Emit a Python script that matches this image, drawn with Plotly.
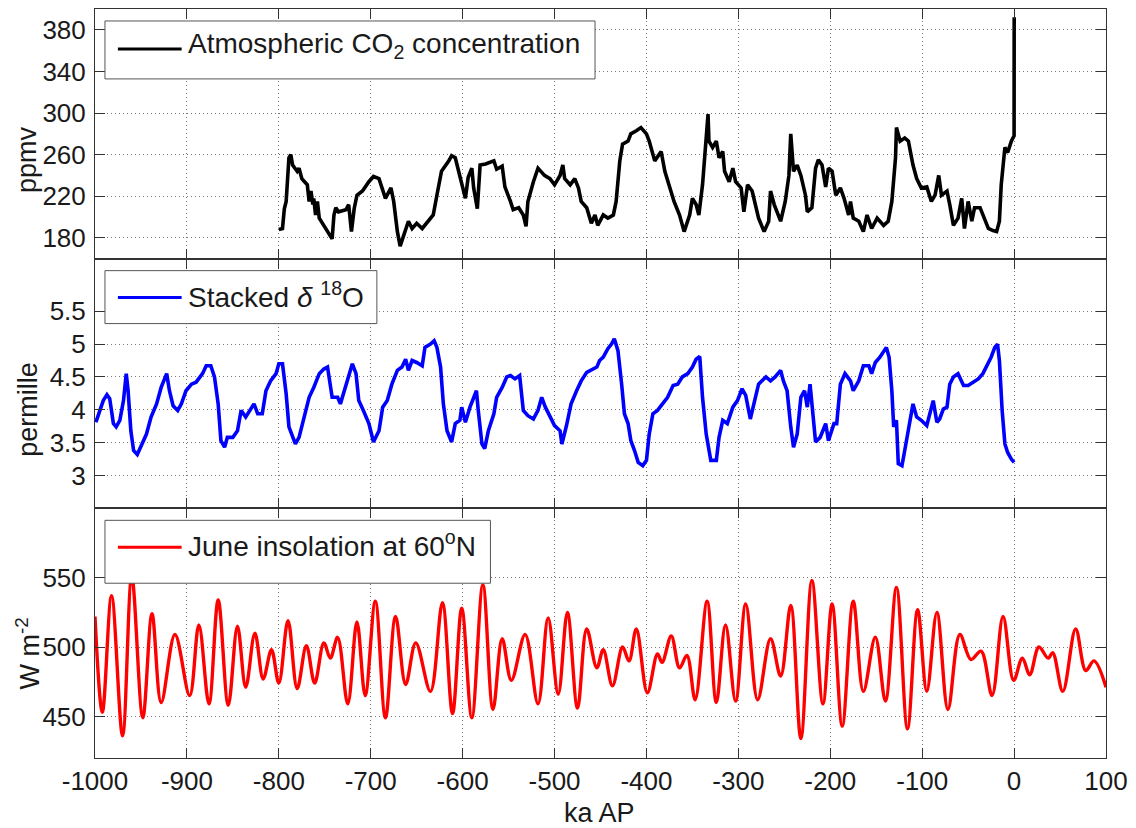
import plotly.graph_objects as go
from plotly.subplots import make_subplots

# ---------------- data ----------------
co2_age = [-800, -796, -794, -792, -789, -787, -785, -783, -780, -778, -775, -772, -769, -767, -765, -763,
           -762, -760, -758, -756, -754, -749, -745, -742,
           -740, -738, -735, -731, -727, -724, -721, -718, -715, -709, -706, -702, -697, -691,
           -684, -678, -675, -671, -668, -664, -659, -655, -650, -644, -637, -632, -628, -623, -615, -612,
           -608, -603, -597, -594, -590, -588, -584, -581, -575, -566, -563, -557, -554, -548, -545, -539,
           -534, -531, -529, -523, -518, -511, -505, -500, -494, -491, -489, -483, -478, -474, -471, -465,
           -460, -456, -453, -447, -442, -436, -433, -429, -426, -420, -417, -411, -406, -400, -397, -391,
           -384, -380, -375, -370, -364, -359, -353, -350, -346, -343, -339, -335, -333, -332, -328, -324,
           -321, -317, -315, -310, -306, -303, -297, -294,
           -290, -285, -281, -278, -272, -267, -265, -261, -254, -249, -245, -243, -240, -236, -232, -227,
           -225, -220, -216, -213, -209, -205, -202, -198, -194, -189, -185, -180, -178, -175, -169, -164,
           -160, -155, -149, -142, -137, -133, -129, -128, -124, -119, -115, -113, -110, -106, -101, -95,
           -90, -86, -82, -79, -73, -70, -66, -61, -57, -54, -50, -46, -43, -37, -32, -28, -23, -19, -16,
           -14, -10, -7, -3, 0, 0.1]
co2_ppmv = [188, 189, 208, 215, 257, 260, 250, 247, 244, 247, 237, 234, 231, 215, 225, 212,
            218, 202, 215, 199, 196, 189, 183, 179,
            202, 209, 205, 206, 207, 212, 186, 208, 221, 225, 229, 234, 239, 237,
            218, 228, 215, 186, 172, 183, 196, 189, 194, 189, 196, 202, 221, 244, 254, 259,
            257, 238, 218, 238, 247, 228, 208, 250, 251, 254, 246, 249, 229, 215, 207, 209,
            202, 191, 215, 234, 247, 240, 237, 231, 240, 250, 237, 231, 237, 228, 215, 209,
            194, 202, 192, 202, 199, 202, 215, 254, 270, 273, 280, 283, 286, 280, 273, 254,
            263, 244, 228, 215, 202, 186, 202, 218, 212, 202, 231, 273, 299, 273, 267, 273,
            257, 263, 244, 234, 247, 234, 228, 205,
            231, 225, 212, 199, 186, 196, 225, 212, 196, 215, 240, 280, 244, 250, 240, 221,
            205, 209, 247, 255, 250, 229, 247, 244, 221, 228, 218, 202, 215, 199, 196, 186,
            202, 189, 199, 192, 196, 215, 257, 286, 273, 276, 273, 263, 250, 237, 228, 229,
            215, 221, 240, 221, 225, 212, 192, 199, 218, 189, 215, 196, 209, 209, 199, 189, 187, 186, 196,
            231, 267, 262, 273, 278, 392]

d18o_age = [-999, -995, -991, -987, -984, -980, -977, -973, -969, -966, -964, -961, -958, -954, -949, -944,
            -939, -933, -928, -922, -919, -915, -910, -906, -901, -895, -890, -886, -883, -879, -874, -870,
            -866, -863, -859, -856, -850, -845, -841, -836, -830, -827, -823, -818, -814, -809, -803, -800,
            -796, -792, -789, -782, -778, -773, -767, -762, -756, -751, -747, -742, -736, -733, -729, -724,
            -720, -716, -713, -708, -702, -697, -691, -687, -682, -677, -671, -666, -662, -659, -655, -650,
            -644, -641, -635, -631, -628, -624, -621, -617, -612, -608, -603, -601, -597, -592, -585, -583,
            -579, -576, -572, -566, -563, -557, -552, -548, -543, -538, -534, -529, -523, -518, -514, -510,
            -505, -500, -494, -492, -487, -482, -476, -471, -465, -460, -454, -451, -447, -442, -438, -435,
            -431, -427, -424, -420, -417, -413, -409, -404, -400, -397, -393, -388, -382, -377, -371, -366,
            -361, -355, -350, -346, -342, -339, -335, -330, -324, -321, -317, -312, -306, -301, -296, -292,
            -287, -283, -278, -270, -265, -260, -254, -251, -247, -243, -240, -236, -232, -228, -225, -222,
            -220, -216, -211, -205, -202, -196, -193, -189, -184, -178, -175, -169, -164, -158, -155, -151,
            -146, -142, -139, -136, -133, -131, -128, -126, -122, -119, -115, -110, -106, -101, -95, -92,
            -88, -84, -81, -77, -73, -70, -66, -61, -55, -50, -45, -39, -34, -30, -25, -21, -18, -16,
            -13, -10, -7, -3, 0]
d18o_permille = [3.81, 3.99, 4.14, 4.23, 4.17, 3.79, 3.74, 3.84, 4.14, 4.55, 4.29, 3.68, 3.38, 3.32, 3.48, 3.63,
                 3.89, 4.09, 4.34, 4.55, 4.29, 4.06, 3.99, 4.09, 4.29, 4.39, 4.42, 4.50, 4.55, 4.67, 4.67, 4.50,
                 4.09, 3.53, 3.43, 3.58, 3.58, 3.68, 3.99, 3.89, 4.04, 4.09, 3.94, 3.94, 4.29, 4.44, 4.55, 4.70,
                 4.70, 4.24, 3.74, 3.48, 3.58, 3.84, 4.19, 4.34, 4.55, 4.62, 4.65, 4.19, 4.19, 4.09, 4.29, 4.50,
                 4.70, 4.55, 4.14, 3.99, 3.79, 3.51, 3.68, 4.04, 4.14, 4.39, 4.60, 4.65, 4.77, 4.60, 4.75, 4.72,
                 4.67, 4.95, 5.00, 5.05, 4.95, 4.65, 4.09, 3.68, 3.51, 3.79, 3.84, 4.04, 3.81, 4.04, 4.29, 3.99,
                 3.48, 3.41, 3.68, 3.94, 4.19, 4.34, 4.50, 4.52, 4.47, 4.52, 3.99, 3.91, 3.86, 3.99, 4.19, 4.04,
                 3.89, 3.76, 3.68, 3.48, 3.76, 4.09, 4.29, 4.44, 4.57, 4.60, 4.65, 4.75, 4.80, 4.93, 5.00, 5.08,
                 4.90, 4.39, 3.94, 3.79, 3.53, 3.38, 3.20, 3.15, 3.23, 3.63, 3.94, 3.99, 4.09, 4.19, 4.37, 4.39,
                 4.50, 4.55, 4.65, 4.77, 4.81, 4.19, 3.63, 3.23, 3.23, 3.58, 3.84, 3.79, 4.04, 4.14, 4.32, 4.22,
                 3.86, 4.09, 4.39, 4.50, 4.44, 4.50, 4.60, 4.44, 4.29, 3.74, 3.43, 3.63, 4.19, 4.29, 4.04, 4.39,
                 4.04, 3.51, 3.58, 3.79, 3.53, 3.79, 3.79, 4.39, 4.55, 4.44, 4.29, 4.44, 4.67, 4.67, 4.55, 4.72,
                 4.80, 4.88, 4.95, 4.80, 4.29, 3.74, 3.84, 3.18, 3.15, 3.38, 3.68, 4.09, 3.89, 3.84, 3.76, 3.94,
                 4.14, 3.81, 3.86, 4.01, 4.04, 4.39, 4.50, 4.55, 4.37, 4.37, 4.42, 4.47, 4.55, 4.65, 4.80, 4.95, 5.00, 4.75,
                 3.99, 3.48, 3.35, 3.25, 3.20]

ins_age = [-1000, -992, -982, -970, -960, -948, -938, -928, -913, -897, -887, -876, -866, -855, -845, -836,
           -826, -817, -808, -800, -790, -780, -770, -761, -751, -744, -736, -725, -715, -706, -695, -684,
           -673, -662, -651, -635, -622, -611, -601, -590, -578, -567, -557, -547, -532, -518, -507, -496,
           -486, -475, -465, -454, -447, -437, -426, -419, -411, -399, -388, -383, -373, -364, -356, -347,
           -334, -324, -314, -303, -292, -279, -265, -254, -243, -232, -220, -208, -198, -187, -175, -164,
           -151, -140, -128, -116, -105, -95, -84, -72, -59, -47, -36, -24, -12, -0.5, 9, 17, 27, 37, 42,
           53, 67, 78, 87, 100]
ins_wm2 = [522, 453, 537, 436, 551, 449, 524, 460, 509, 465, 516, 459, 534, 458, 515, 471,
           510, 477, 498, 474, 519, 470, 501, 474, 503, 492, 507, 459, 518, 465, 533, 449,
           522, 473, 503, 468, 532, 452, 528, 449, 545, 455, 506, 476, 509, 459, 521, 466,
           525, 456, 513, 485, 498, 472, 500, 490, 513, 467, 495, 489, 508, 485, 494, 462,
           533, 460, 516, 461, 531, 462, 506, 479, 530, 434, 548, 459, 531, 443, 533, 468,
           507, 461, 543, 441, 527, 468, 525, 455, 509, 491, 497, 465, 522, 476, 492, 480, 500, 492, 496,
           468, 513, 483, 490, 471]

x_ticks = list(range(-1000, 101, 100))
x_tick_labels = [str(v) for v in x_ticks]
co2_ticks = [180, 220, 260, 300, 340, 380]
d18o_ticks = [3, 3.5, 4, 4.5, 5, 5.5]
d18o_tick_labels = ["3", "3.5", "4", "4.5", "5", "5.5"]
ins_ticks = [450, 500, 550]

series_names = ["Atmospheric CO<sub>2</sub> concentration",
                "Stacked <i>δ</i> <sup>18</sup>O",
                "June insolation at 60<sup>o</sup>N"]
series_colors = ["#000000", "#0000ff", "#ff0000"]

# ---------------- figure ----------------
FONT = "Liberation Sans, Arial, Helvetica, sans-serif"
W, H = 1136, 828
L, R, T, B = 95, 26, 8, 70
PW, PH = W - L - R, H - T - B


def px_x(px):
    return (px - L) / PW


def px_y(py):
    return (H - B - py) / PH


fig = make_subplots(rows=3, cols=1, shared_xaxes=True, vertical_spacing=0)

fig.add_trace(go.Scatter(x=co2_age, y=co2_ppmv, mode="lines", name=series_names[0],
                         line=dict(color=series_colors[0], width=3.6)), row=1, col=1)
fig.add_trace(go.Scatter(x=d18o_age, y=d18o_permille, mode="lines", name=series_names[1],
                         line=dict(color=series_colors[1], width=3.6)), row=2, col=1)
fig.add_trace(go.Scatter(x=ins_age, y=ins_wm2, mode="lines", name=series_names[2],
                         line=dict(color=series_colors[2], width=3.4, shape="spline", smoothing=1)),
              row=3, col=1)

axis_common = dict(showline=True, linecolor="#333333", linewidth=1, mirror="allticks",
                   ticks="inside", ticklen=10, tickcolor="#333333", tickwidth=1,
                   showgrid=True, gridcolor="#777777", griddash="1px,3px", gridwidth=1,
                   zeroline=False, tickfont=dict(size=26, color="#1a1a1a", family=FONT))

for r in (1, 2, 3):
    fig.update_xaxes(range=[-1000, 100], tickvals=x_ticks, ticktext=x_tick_labels,
                     row=r, col=1, **axis_common)
fig.update_xaxes(ticklabelstandoff=0, row=3, col=1)

fig.update_yaxes(range=[160, 400], tickvals=co2_ticks, ticklabelstandoff=3, row=1, col=1, **axis_common)
fig.update_yaxes(range=[2.5, 6.3], tickvals=d18o_ticks, ticktext=d18o_tick_labels, ticklabelstandoff=3,
                 row=2, col=1, **axis_common)
fig.update_yaxes(range=[420, 600], tickvals=ins_ticks, ticklabelstandoff=3, row=3, col=1, **axis_common)

# legend boxes (pixel positions from the reference)
legend_boxes = [(105, 20, 597, 78, 48), (105, 270, 378, 323, 297), (105, 520, 492, 583, 547)]
shapes = []
annotations = []
for (x0, y0, x1, y1, ly), name, col in zip(legend_boxes, series_names, series_colors):
    shapes.append(dict(type="rect", xref="paper", yref="paper", x0=px_x(x0), x1=px_x(x1),
                       y0=px_y(y1), y1=px_y(y0), line=dict(color="#555555", width=1),
                       fillcolor="white", layer="above"))
    shapes.append(dict(type="line", xref="paper", yref="paper", x0=px_x(118), x1=px_x(182),
                       y0=px_y(ly), y1=px_y(ly), line=dict(color=col, width=3), layer="above"))
    annotations.append(dict(text=name, xref="paper", yref="paper", x=px_x(186), y=px_y(ly - 3),
                            xanchor="left", yanchor="middle", showarrow=False,
                            font=dict(size=28, color="#1a1a1a", family=FONT)))

# axis titles
annotations.append(dict(text="ppmv", xref="paper", yref="paper", x=px_x(27), y=px_y(159),
                        textangle=-90, xanchor="center", yanchor="middle", showarrow=False,
                        font=dict(size=27, color="#1a1a1a", family=FONT)))
annotations.append(dict(text="permille", xref="paper", yref="paper", x=px_x(28), y=px_y(409),
                        textangle=-90, xanchor="center", yanchor="middle", showarrow=False,
                        font=dict(size=27, color="#1a1a1a", family=FONT)))
annotations.append(dict(text="W m<sup>-2</sup>", xref="paper", yref="paper", x=px_x(28), y=px_y(653),
                        textangle=-90, xanchor="center", yanchor="middle", showarrow=False,
                        font=dict(size=27, color="#1a1a1a", family=FONT)))
annotations.append(dict(text="ka AP", xref="paper", yref="paper", x=px_x(601), y=px_y(813),
                        xanchor="center", yanchor="middle", showarrow=False,
                        font=dict(size=27, color="#1a1a1a", family=FONT)))

fig.update_layout(width=W, height=H, margin=dict(l=L, r=R, t=T, b=B),
                  plot_bgcolor="white", paper_bgcolor="white", showlegend=False,
                  font=dict(family=FONT, size=26, color="#1a1a1a"),
                  shapes=shapes, annotations=annotations)

fig.write_html("out.html")
